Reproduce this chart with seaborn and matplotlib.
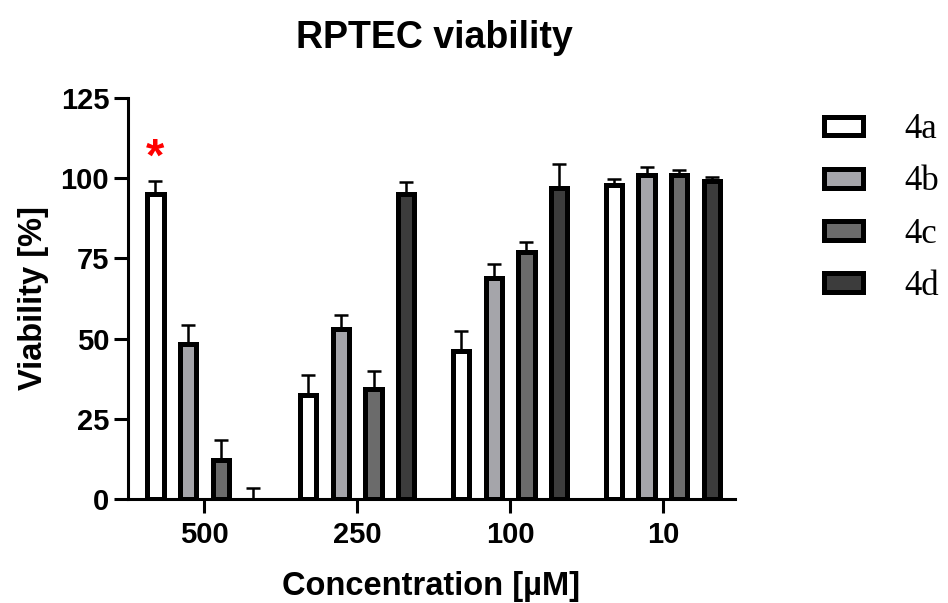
import pandas as pd
import numpy as np
import matplotlib
matplotlib.use("Agg")
import matplotlib.pyplot as plt
import seaborn as sns

concentrations = ["500", "250", "100", "10"]
compounds = ["4a", "4b", "4c", "4d"]

mean_4a = [95.0, 32.5, 46.0, 98.0]
mean_4b = [48.2, 53.0, 69.0, 101.0]
mean_4c = [12.0, 34.2, 77.0, 101.0]
mean_4d = [0.0, 95.0, 97.0, 99.2]

sd_4a = [4.1, 6.3, 6.3, 1.9]
sd_4b = [6.0, 4.5, 4.4, 2.5]
sd_4c = [6.4, 5.8, 3.0, 1.5]
sd_4d = [3.5, 3.9, 7.3, 1.2]

colors = ["#ffffff", "#a4a4ab", "#6b6b6b", "#3c3c3c"]


def main():
    means = [mean_4a, mean_4b, mean_4c, mean_4d]
    sds = [sd_4a, sd_4b, sd_4c, sd_4d]
    rows = []
    for comp, m, s in zip(compounds, means, sds):
        for c, v, e in zip(concentrations, m, s):
            rows.append({"conc": c, "compound": comp, "viability": v, "sd": e})
    df = pd.DataFrame(rows)

    sns.set_style("ticks")
    plt.rcParams["font.family"] = ["Liberation Sans", "DejaVu Sans"]
    for k in ["text.color", "axes.labelcolor", "xtick.color", "ytick.color", "axes.edgecolor"]:
        plt.rcParams[k] = "black"

    fig = plt.figure(figsize=(9.48, 6.03), dpi=100)
    ax = fig.add_axes([0.135, 0.1725, 0.640, 0.665])

    sns.barplot(data=df, x="conc", y="viability", hue="compound",
                order=concentrations, hue_order=compounds,
                palette=colors, edgecolor="black", linewidth=3.6,
                width=0.854, gap=0.5, errorbar=None, ax=ax, legend=True)

    # error bars (upward only), positions taken from the drawn bars
    for cont, comp in zip(ax.containers, compounds):
        sub = df[df["compound"] == comp].set_index("conc").loc[concentrations]
        xs = [p.get_x() + p.get_width() / 2 for p in cont.patches]
        for p, v in zip(cont.patches, sub["viability"]):
            if v == 0:
                p.set_linewidth(0)
        ax.errorbar(xs, sub["viability"], yerr=[np.zeros(len(xs)), sub["sd"]],
                    fmt="none", ecolor="black", elinewidth=1.8, capsize=5,
                    capthick=1.8, zorder=1)

    # significance mark
    p0 = ax.containers[0].patches[0]
    ax.text(p0.get_x() + p0.get_width() / 2, 106, "*", color="red",
            ha="center", va="center", fontsize=34, fontweight="bold")

    ax.set_ylim(0, 125)
    ax.set_xlim(-0.5, 3.47)
    ax.set_yticks([0, 25, 50, 75, 100, 125])
    ax.tick_params(axis="both", width=2.2, length=10, labelsize=21)
    for lab in ax.get_xticklabels() + ax.get_yticklabels():
        lab.set_fontweight("bold")
    ax.tick_params(axis="x", pad=6)
    for s in ["left", "bottom"]:
        ax.spines[s].set_linewidth(2.2)
    sns.despine(ax=ax)

    ax.set_xlabel("Concentration [µM]", fontsize=23.5, fontweight="bold", labelpad=16)
    ax.set_ylabel("Viability [%]", fontsize=23.5, fontweight="bold", labelpad=8)
    fig.suptitle("RPTEC viability", x=0.458, y=0.967, fontsize=27, fontweight="bold")

    handles, labels = ax.get_legend_handles_labels()
    ax.get_legend().remove()
    leg = fig.legend(handles, labels, loc="upper left", bbox_to_anchor=(0.869, 0.812),
                     frameon=False, handlelength=1.12, handleheight=0.46,
                     handletextpad=1.2, labelspacing=0.55, borderpad=0,
                     borderaxespad=0,
                     prop={"family": ["Liberation Serif", "DejaVu Serif"], "size": 25})
    for h in leg.legend_handles:
        h.set_linewidth(3.6)

    fig.savefig("out.png", dpi=100)


if __name__ == "__main__":
    main()
